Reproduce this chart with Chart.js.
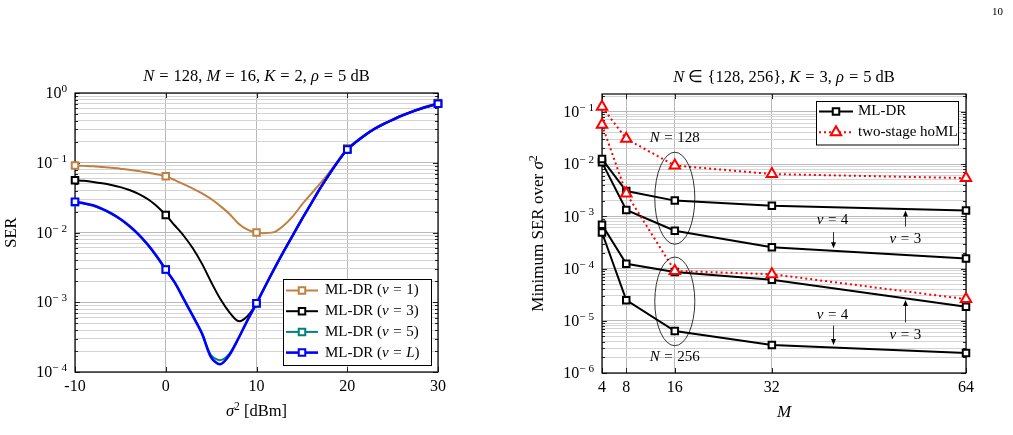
<!DOCTYPE html>
<html>
<head>
<meta charset="utf-8">
<script src="https://cdn.jsdelivr.net/npm/chart.js@4"></script>
<style>
  html, body { margin: 0; padding: 0; background: #fff; }
  body { width: 1013px; height: 435px; position: relative; overflow: hidden; }
  #c1 { position: absolute; left: 0; top: 0; }
  #c2 { position: absolute; left: 480px; top: 0; }
  #pageno { position: absolute; left: 992px; top: 5px; font: 11px 'Liberation Serif', serif; }
</style>
</head>
<body>
<canvas id="c1" width="480" height="435"></canvas>
<canvas id="c2" width="533" height="435"></canvas>
<div id="pageno">10</div>
<script>
// ---- left chart: SER vs sigma^2 ----
const sigma2 = [-10, -9, -8, -7, -6, -5, -4, -3, -2, -1, 0, 1, 2, 3, 4, 5, 6, 7, 8, 9, 10,
  11, 12, 13, 14, 15, 16, 17, 18, 19, 20, 21, 22, 23, 24, 25, 26, 27, 28, 29, 30];
const serNu1 = [0.0912, 0.0902, 0.0891, 0.0871, 0.0851, 0.0822, 0.0794, 0.0759, 0.0724, 0.0684, 0.0638,
  0.0562, 0.0490, 0.0427, 0.0363, 0.0302, 0.0240, 0.0186, 0.0135, 0.0110, 0.0100,
  0.0098, 0.0102, 0.0126, 0.0170, 0.0251, 0.0355, 0.0501, 0.0724, 0.107, 0.162,
  0.204, 0.251, 0.309, 0.363, 0.417, 0.479, 0.537, 0.603, 0.661, 0.716];
const serNu3 = [0.0562, 0.0550, 0.0531, 0.0507, 0.0479, 0.0447, 0.0407, 0.0359, 0.0302, 0.0240, 0.0178,
  0.0126, 0.00891, 0.00589, 0.00355, 0.00195, 0.00112, 7.24e-4, 5.37e-4, 6.31e-4, 9.66e-4,
  1.74e-3, 3.09e-3, 5.37e-3, 9.12e-3, 0.0155, 0.0257, 0.0427, 0.0676, 0.105, 0.155,
  0.200, 0.251, 0.305, 0.359, 0.412, 0.473, 0.531, 0.589, 0.646, 0.700];
const serNu5 = [0.0271, 0.0258, 0.0241, 0.0215, 0.0185, 0.0154, 0.0122, 0.00930, 0.00668, 0.00452, 0.00294,
  0.00191, 0.00110, 6.31e-4, 3.55e-4, 1.74e-4, 1.48e-4, 1.82e-4, 3.02e-4, 5.50e-4, 9.66e-4,
  1.74e-3, 3.09e-3, 5.37e-3, 9.12e-3, 0.0155, 0.0257, 0.0427, 0.0676, 0.105, 0.155,
  0.200, 0.251, 0.305, 0.359, 0.412, 0.473, 0.531, 0.589, 0.646, 0.700];
const serNuL = [0.0275, 0.0262, 0.0245, 0.0218, 0.0188, 0.0156, 0.0124, 0.00942, 0.00675, 0.00456, 0.00294,
  0.00191, 0.00110, 6.31e-4, 3.55e-4, 1.62e-4, 1.29e-4, 1.74e-4, 3.02e-4, 5.50e-4, 9.66e-4,
  1.74e-3, 3.09e-3, 5.37e-3, 9.12e-3, 0.0155, 0.0257, 0.0427, 0.0676, 0.105, 0.155,
  0.200, 0.251, 0.305, 0.359, 0.412, 0.473, 0.531, 0.589, 0.646, 0.700];
const leftXTicks = [-10, 0, 10, 20, 30];
const leftYDecades = [1e-4, 1e-3, 1e-2, 1e-1, 1];
const leftYLabels = ['10^{− 4}', '10^{− 3}', '10^{− 2}', '10^{− 1}', '10^{0}'];

// ---- right chart: minimum SER vs M ----
const mValues = [4, 8, 16, 32, 64];
const mldr128nu3 = [1.25e-2, 3.05e-3, 2.0e-3, 1.6e-3, 1.29e-3];
const mldr128nu4 = [1.08e-2, 1.32e-3, 5.3e-4, 2.56e-4, 1.55e-4];
const mldr256nu3 = [6.9e-4, 1.23e-4, 8.6e-5, 6.1e-5, 1.86e-5];
const mldr256nu4 = [4.9e-4, 2.48e-5, 6.35e-6, 3.43e-6, 2.41e-6];
const homl128 = [0.125, 0.0305, 9.4e-3, 6.45e-3, 5.4e-3];
const homl256 = [0.0565, 2.75e-3, 9.0e-5, 7.8e-5, 2.6e-5];
const rightYDecades = [1e-6, 1e-5, 1e-4, 1e-3, 1e-2, 1e-1];
const rightYLabels = ['10^{− 6}', '10^{− 5}', '10^{− 4}', '10^{− 3}', '10^{− 2}', '10^{− 1}'];

const texFont = "'Liberation Serif', 'Times New Roman', serif";
const tickFont = { family: texFont, size: 16 };
const majorGrid = '#b9b9b9';
const minorGrid = '#d4d4d4';

// tiny "tex" text: $..$ italic, ^{..} superscript, ~ a math space
function parseTex(str) {
  const segs = [];
  let italic = false, buf = '', i = 0;
  const push = sup => { if (buf) { segs.push({ t: buf, it: italic, sup }); buf = ''; } };
  while (i < str.length) {
    const c = str[i];
    if (c === '$') { push(false); italic = !italic; i++; }
    else if (c === '~') { push(false); segs.push({ gap: 0.3 }); i++; }
    else if (c === '^' && str[i + 1] === '{') {
      push(false);
      const end = str.indexOf('}', i);
      buf = str.slice(i + 2, end); push(true); i = end + 1;
    } else { buf += c; i++; }
  }
  push(false);
  return segs;
}

function drawTex(ctx, str, x, y, size, align, rot) {
  const segs = parseTex(str);
  const fontOf = s => (s.it ? 'italic ' : '') + (s.sup ? size * 0.7 : size) + 'px ' + texFont;
  let w = 0;
  segs.forEach(s => {
    if (s.gap) { s.w = s.gap * size; } else { ctx.font = fontOf(s); s.w = ctx.measureText(s.t).width; }
    w += s.w;
  });
  ctx.save();
  ctx.translate(x, y);
  if (rot) ctx.rotate(rot);
  let cx = align === 'left' ? 0 : (align === 'right' ? -w : -w / 2);
  ctx.textBaseline = 'middle';
  ctx.textAlign = 'left';
  ctx.fillStyle = '#000';
  segs.forEach(s => {
    if (!s.gap) { ctx.font = fontOf(s); ctx.fillText(s.t, cx, s.sup ? -size * 0.3 : 0); }
    cx += s.w;
  });
  ctx.restore();
}

function logTicks(decades, max) {
  const out = [];
  decades.forEach(d => {
    out.push({ value: d, major: true });
    for (let k = 2; k <= 9; k++) if (d * k <= max * 1.0001) out.push({ value: d * k, major: false });
  });
  return out.filter(t => t.value <= max * 1.0001);
}

function logAxis(decades, labels, max, width) {
  return {
    type: 'logarithmic', min: decades[0], max: max,
    afterBuildTicks: s => { s.ticks = logTicks(decades, max); },
    afterFit: s => { s.width = width; },
    ticks: { display: false, autoSkip: false },
    texLabels: { decades, labels },
    grid: { drawTicks: false, lineWidth: 1, color: c => (c.tick && c.tick.major) ? majorGrid : minorGrid },
    border: { display: false }
  };
}

function linAxis(min, max, ticks, height) {
  return {
    type: 'linear', min, max,
    afterBuildTicks: s => { s.ticks = ticks.map(v => ({ value: v, major: true })); },
    afterFit: s => { s.height = height; },
    ticks: { autoSkip: false, maxRotation: 0, padding: 5, font: tickFont, color: '#000', callback: v => String(v) },
    grid: { drawTicks: false, lineWidth: 1, color: majorGrid },
    border: { display: false }
  };
}

// axis box and inward tick marks (pgfplots look)
const frame = {
  id: 'frame',
  beforeDatasetsDraw(chart) {
    const { ctx, chartArea: a, scales } = chart;
    ctx.save();
    ctx.strokeStyle = '#222';
    ctx.lineWidth = 1;
    scales.y.ticks.forEach(t => {
      const y = Math.round(scales.y.getPixelForValue(t.value)) + 0.5;
      const len = t.major ? 5 : 3;
      ctx.beginPath();
      ctx.moveTo(a.left, y); ctx.lineTo(a.left + len, y);
      ctx.moveTo(a.right, y); ctx.lineTo(a.right - len, y);
      ctx.stroke();
    });
    scales.x.ticks.forEach(t => {
      const x = Math.round(scales.x.getPixelForValue(t.value)) + 0.5;
      ctx.beginPath();
      ctx.moveTo(x, a.bottom); ctx.lineTo(x, a.bottom - 5);
      ctx.moveTo(x, a.top); ctx.lineTo(x, a.top + 5);
      ctx.stroke();
    });
    ctx.strokeStyle = '#000';
    ctx.lineWidth = 1.2;
    ctx.strokeRect(a.left, a.top, a.right - a.left, a.bottom - a.top);
    ctx.restore();
  }
};

function drawMarker(ctx, ds, x, y) {
  ctx.save();
  ctx.fillStyle = '#fff';
  ctx.strokeStyle = ds.borderColor;
  ctx.lineWidth = ds.pointBorderWidth;
  ctx.setLineDash([]);
  ctx.beginPath();
  if (ds.pointStyle === 'triangle') {
    const r = ds.legendRadius;
    ctx.moveTo(x, y - r);
    ctx.lineTo(x + r * 0.866, y + r * 0.5);
    ctx.lineTo(x - r * 0.866, y + r * 0.5);
    ctx.closePath();
  } else {
    const h = ds.legendRadius * Math.SQRT1_2;
    ctx.rect(x - h, y - h, 2 * h, 2 * h);
  }
  ctx.fill();
  ctx.stroke();
  ctx.restore();
}

// legend drawn inside the plot, from datasets flagged inLegend
const texLegend = {
  id: 'texLegend',
  afterDraw(chart, args, opts) {
    const { ctx, chartArea: a } = chart;
    const items = chart.data.datasets.filter(d => d.inLegend);
    items.sort((p, q) => p.legendPos - q.legendPos);
    const left = a.right - opts.dx - opts.w;
    const top = opts.anchor === 'br' ? a.bottom - opts.dy - opts.h : a.top + opts.dy;
    ctx.save();
    ctx.fillStyle = '#fff';
    ctx.fillRect(left, top, opts.w, opts.h);
    ctx.strokeStyle = '#000';
    ctx.lineWidth = 1;
    ctx.strokeRect(left + 0.5, top + 0.5, opts.w, opts.h);
    items.forEach((ds, i) => {
      const y = top + opts.first + i * opts.step;
      ctx.save();
      ctx.strokeStyle = ds.borderColor;
      ctx.lineWidth = ds.borderWidth;
      ctx.setLineDash(ds.borderDash || []);
      ctx.beginPath();
      ctx.moveTo(left + 3, y); ctx.lineTo(left + 3 + opts.line, y);
      ctx.stroke();
      ctx.restore();
      drawMarker(ctx, ds, left + 3 + opts.line / 2, y);
      drawTex(ctx, ds.legendText, left + opts.textX, y, 15, 'left');
    });
    ctx.restore();
  }
};

// titles, axis titles and the 10^k labels of the log axis
const texTitles = {
  id: 'texTitles',
  afterDraw(chart, args, o) {
    const { ctx, chartArea: a, scales: { y } } = chart;
    const cx = (a.left + a.right) / 2, cy = (a.top + a.bottom) / 2;
    drawTex(ctx, o.title, cx, a.top - 16, 16.5, 'center');
    drawTex(ctx, o.xTitle, cx, a.bottom + 40, o.axisSize, 'center');
    drawTex(ctx, o.yTitle, o.yTitleX, cy, o.axisSize, 'center', -Math.PI / 2);
    const tl = y.options.texLabels;
    tl.decades.forEach((d, i) => drawTex(ctx, tl.labels[i], a.left - 8, y.getPixelForValue(d) + 1, 16, 'right'));
  }
};

function serSet(label, text, data, color, width, order) {
  return {
    label, legendText: text, inLegend: true, legendPos: 5 - order,
    data: data.map((y, i) => ({ x: sigma2[i], y })),
    borderColor: color, backgroundColor: '#fff', borderWidth: width,
    tension: 0.3, clip: false, order,
    pointStyle: 'rect', legendRadius: 4.6,
    pointRadius: c => (sigma2[c.dataIndex] % 10 === 0 ? 4.6 : 0),
    pointHoverRadius: 0, pointBorderWidth: 2, pointBackgroundColor: '#fff', pointBorderColor: color
  };
}

new Chart(document.getElementById('c1'), {
  type: 'line',
  data: {
    datasets: [
      serSet('nu1', 'ML-DR ($ν$~=~1)', serNu1, '#c08040', 2, 4),
      serSet('nu3', 'ML-DR ($ν$~=~3)', serNu3, '#000000', 2, 3),
      serSet('nu5', 'ML-DR ($ν$~=~5)', serNu5, '#008080', 2, 2),
      serSet('nuL', 'ML-DR ($ν$~=~$L$)', serNuL, '#0000ff', 2.6, 1)
    ]
  },
  options: {
    responsive: false, animation: false, events: [],
    layout: { padding: { left: 0, right: 42, top: 93, bottom: 0 } },
    scales: {
      x: linAxis(-10, 30, leftXTicks, 63),
      y: logAxis(leftYDecades, leftYLabels, 1, 75)
    },
    plugins: {
      legend: { display: false }, tooltip: { enabled: false },
      texLegend: { anchor: 'br', dx: 7, dy: 7, w: 148, h: 86, first: 11.5, step: 20.7, line: 32, textX: 42 },
      texTitles: {
        title: '$N$~=~128, $M$~=~16, $K$~=~2, $ρ$~=~5 dB',
        xTitle: '$σ$^{2} [dBm]', yTitle: 'SER', yTitleX: 12, axisSize: 16.5
      }
    }
  },
  plugins: [frame, texLegend, texTitles]
});

// ---- right chart ----
function mSet(label, data, kind, order) {
  const red = kind === 'homl';
  return {
    label, inLegend: label === 'mldr128nu3' || label === 'homl128',
    legendText: red ? 'two-stage hoML' : 'ML-DR', legendPos: red ? 2 : 1,
    data: data.map((y, i) => ({ x: mValues[i], y })),
    borderColor: red ? '#ff0000' : '#000000', borderWidth: 2,
    borderDash: red ? [2, 3] : [], tension: 0, clip: false, order,
    pointStyle: red ? 'triangle' : 'rect', legendRadius: red ? 6 : 4.6,
    pointRadius: red ? 6 : 4.6, pointHoverRadius: 0, pointBorderWidth: 2,
    pointBackgroundColor: '#fff', pointBorderColor: red ? '#ff0000' : '#000000'
  };
}

const notes = [
  { text: '$N$~=~128', x: 16, y: 0.0318 },
  { text: '$N$~=~256', x: 16, y: 2.04e-6 },
  { text: '$ν$~=~4', x: 42, y: 8.5e-4 },
  { text: '$ν$~=~3', x: 54, y: 3.7e-4 },
  { text: '$ν$~=~4', x: 42, y: 1.29e-5 },
  { text: '$ν$~=~3', x: 54, y: 5.35e-6 }
];
const arrows = [
  { x: 42, from: 5.0e-4, to: 2.45e-4 },
  { x: 54, from: 6.35e-4, to: 1.29e-3 },
  { x: 42, from: 8.1e-6, to: 3.43e-6 },
  { x: 54, from: 9.3e-6, to: 2.5e-5 }
];
const ellipses = [
  { x0: 12.7, x1: 19.3, y0: 0.0169, y1: 2.92e-4 },
  { x0: 12.7, x1: 19.3, y0: 1.66e-4, y1: 3.33e-6 }
];

const rightNotes = {
  id: 'rightNotes',
  afterDraw(chart) {
    const { ctx, scales: { x, y } } = chart;
    ctx.save();
    ctx.strokeStyle = '#000';
    ctx.lineWidth = 0.8;
    ellipses.forEach(e => {
      const l = x.getPixelForValue(e.x0), r = x.getPixelForValue(e.x1);
      const t = y.getPixelForValue(e.y0), b = y.getPixelForValue(e.y1);
      ctx.beginPath();
      ctx.ellipse((l + r) / 2, (t + b) / 2, (r - l) / 2, (b - t) / 2, 0, 0, Math.PI * 2);
      ctx.stroke();
    });
    ctx.fillStyle = '#000';
    arrows.forEach(a => {
      const px = Math.round(x.getPixelForValue(a.x)) + 0.5;
      const y0 = y.getPixelForValue(a.from), y1 = y.getPixelForValue(a.to);
      const dir = y1 > y0 ? 1 : -1;
      ctx.beginPath();
      ctx.moveTo(px, y0); ctx.lineTo(px, y1 - dir * 4);
      ctx.stroke();
      ctx.beginPath();
      ctx.moveTo(px, y1); ctx.lineTo(px - 2.5, y1 - dir * 6); ctx.lineTo(px + 2.5, y1 - dir * 6);
      ctx.closePath();
      ctx.fill();
    });
    ctx.restore();
    notes.forEach(n => drawTex(ctx, n.text, x.getPixelForValue(n.x), y.getPixelForValue(n.y), 15, 'center'));
  }
};

new Chart(document.getElementById('c2'), {
  type: 'line',
  data: {
    datasets: [
      mSet('mldr128nu3', mldr128nu3, 'mldr', 2),
      mSet('mldr128nu4', mldr128nu4, 'mldr', 2),
      mSet('mldr256nu3', mldr256nu3, 'mldr', 2),
      mSet('mldr256nu4', mldr256nu4, 'mldr', 2),
      mSet('homl128', homl128, 'homl', 1),
      mSet('homl256', homl256, 'homl', 1)
    ]
  },
  options: {
    responsive: false, animation: false, events: [],
    layout: { padding: { left: 0, right: 47, top: 94, bottom: 0 } },
    scales: {
      x: linAxis(4, 64, mValues, 62),
      y: logAxis(rightYDecades, rightYLabels, 0.22, 122)
    },
    plugins: {
      legend: { display: false }, tooltip: { enabled: false },
      texLegend: { anchor: 'tr', dx: 8, dy: 7, w: 142, h: 43.5, first: 10.5, step: 20.7, line: 34, textX: 42 },
      texTitles: {
        title: '$N$ ∈ {128, 256}, $K$~=~3, $ρ$~=~5 dB',
        xTitle: '$M$', yTitle: 'Minimum SER over $σ$^{2}', yTitleX: 59, axisSize: 17
      }
    }
  },
  plugins: [frame, texLegend, texTitles, rightNotes]
});
</script>
</body>
</html>
